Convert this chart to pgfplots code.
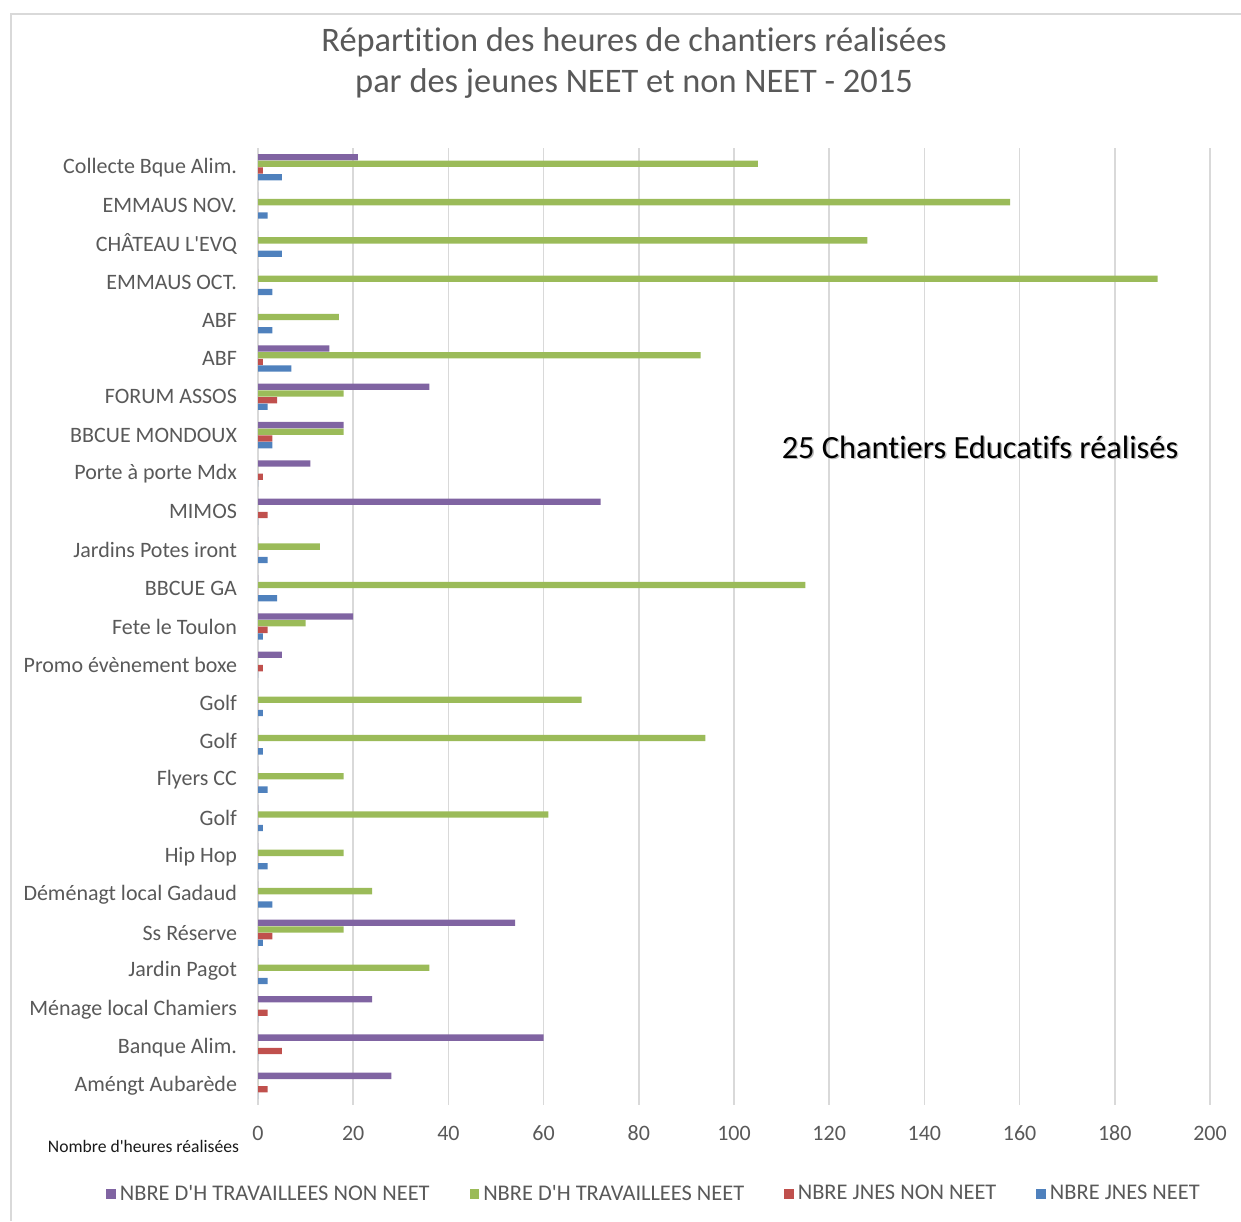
\documentclass[border=0pt]{standalone}
\usepackage{pgfplots}
\pgfplotsset{compat=1.18}
\usepackage{pgfplotstable}
\usepackage{fontspec}
\setmainfont{Carlito}[Ligatures={NoCommon,NoContextual,NoRequired}]

\definecolor{cPurple}{HTML}{8064A2}
\definecolor{cGreen}{HTML}{9BBB59}
\definecolor{cRed}{HTML}{C0504D}
\definecolor{cBlue}{HTML}{4F81BD}
\definecolor{txtgray}{HTML}{595959}
\definecolor{gridgray}{HTML}{D9D9D9}

% idx  hNonNeet  hNeet  jNonNeet  jNeet
\pgfplotstableread{
idx hnn hn jnn jn
0  21 105 1 5
1  0  158 0 2
2  0  128 0 5
3  0  189 0 3
4  0  17  0 3
5  15 93  1 7
6  36 18  4 2
7  18 18  3 3
8  11 0   1 0
9  72 0   2 0
10 0  13  0 2
11 0  115 0 4
12 20 10  2 1
13 5  0   1 0
14 0  68  0 1
15 0  94  0 1
16 0  18  0 2
17 0  61  0 1
18 0  18  0 2
19 0  24  0 3
20 54 18  3 1
21 0  36  0 2
22 24 0   2 0
23 60 0   5 0
24 28 0   2 0
}\chantiers

\begin{document}
\begin{tikzpicture}
\useasboundingbox (0,0) rectangle (620.5pt,-610.5pt);
% chart frame
\draw[gridgray, line width=1pt] (5.25pt,-610.5pt) -- (5.25pt,-6.75pt) -- (620.5pt,-6.75pt);
% title
\node[text=txtgray, font=\fontsize{17.2}{20.5}\selectfont, align=center] at (317pt,-31.5pt)
  {Répartition des heures de chantiers réalisées\\par des jeunes NEET et non NEET - 2015};
\begin{axis}[
  at={(129pt,-552.5pt)}, anchor=south west,
  scale only axis, width=476pt, height=478.5pt,
  xbar, bar width=3.15pt,
  xmin=0, xmax=200, xtick={0,20,...,200},
  ymin=-0.5, ymax=24.5, y dir=reverse,
  ytick={0,...,24},
  yticklabels={Collecte Bque Alim.,EMMAUS NOV.,CHÂTEAU L\textquotesingle EVQ,EMMAUS OCT.,ABF,ABF,FORUM ASSOS,BBCUE MONDOUX,Porte à porte Mdx,MIMOS,Jardins Potes iront,BBCUE GA,Fete le Toulon,Promo évènement boxe,Golf,Golf,Flyers CC,Golf,Hip Hop,Déménagt local Gadaud,Ss Réserve,Jardin Pagot,Ménage local Chamiers,Banque Alim.,Améngt Aubarède},
  axis lines*=left,
  x axis line style={draw=none},
  y axis line style={gridgray, line width=1pt, -},
  major tick length=0pt,
  xmajorgrids, grid style={gridgray, line width=0.8pt},
  /pgf/number format/assume math mode=true,
  ticklabel style={text=txtgray, font=\fontsize{11}{13}\selectfont},
  xticklabel style={anchor=base, yshift=-17.5pt},
  yticklabel style={xshift=-7pt},
  xlabel={Nombre d\textquotesingle heures réalisées},
  xlabel style={at={(axis description cs:0,0)}, anchor=east, xshift=-6pt, yshift=-20.5pt, font=\fontsize{8.8}{10}\selectfont, text=black!90},
  legend columns=4,
  legend style={at={(axis description cs:0.417,-0.093)}, anchor=center, draw=none, fill=none,
    font=\fontsize{11.2}{13}\selectfont, text=txtgray,
    /tikz/every even column/.append style={column sep=18pt}},
  legend image code/.code={\fill (0pt,-2.4pt) rectangle (4.8pt,2.4pt);},
]
\addplot[draw=none, fill=cPurple, bar shift=5pt] table[x=hnn, y=idx] {\chantiers};
\addplot[draw=none, fill=cGreen, bar shift=1.67pt] table[x=hn, y=idx] {\chantiers};
\addplot[draw=none, fill=cRed, bar shift=-1.67pt] table[x=jnn, y=idx] {\chantiers};
\addplot[draw=none, fill=cBlue, bar shift=-5pt] table[x=jn, y=idx] {\chantiers};
\legend{NBRE D\textquotesingle H TRAVAILLEES NON NEET, NBRE D\textquotesingle H TRAVAILLEES NEET, NBRE JNES NON NEET, NBRE JNES NEET}
\end{axis}
% note on the chart
\node[text=black!45, opacity=0.6, font=\fontsize{16.2}{18}\selectfont] at (490.7pt,-224.2pt) {25 Chantiers Educatifs réalisés};
\node[text=black, font=\fontsize{16.2}{18}\selectfont] at (490pt,-223.5pt) {25 Chantiers Educatifs réalisés};
\end{tikzpicture}
\end{document}
